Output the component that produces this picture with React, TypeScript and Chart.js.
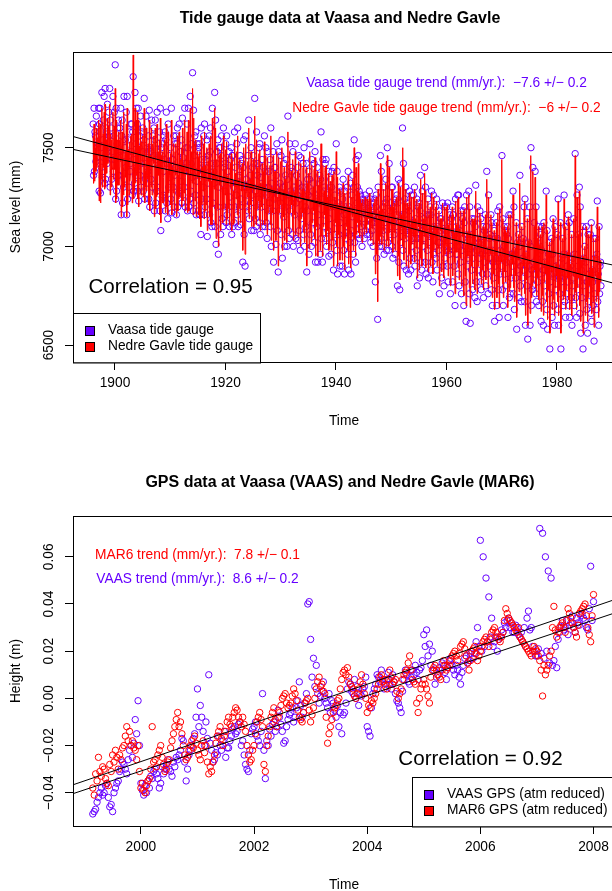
import { useEffect, useRef } from "react";
import { Chart, registerables } from "chart.js";

Chart.register(...registerables);

const PURPLE = "#6600ff";
const RED = "#ff0000";
const FONT = "'Liberation Sans', Arial, Helvetica, sans-serif";
const BASE = 13.75;

// ---------------- Tide gauge data (mm), monthly, 1896–1987 ----------------
const tideStartYear = 1896;
const tideSamplesPerYear = 12;
const vaasaTide = [
  7620, 7360, 7700, 7380, 7580, 7560, 7430, 7660, 7450, 7500, 7610, 7520,
  7700, 7280, 7620, 7700, 7270, 7500, 7400, 7780, 7350, 7540, 7640, 7450,
  7760, 7320, 7800, 7340, 7600, 7580, 7420, 7720, 7480, 7500, 7680, 7560,
  7800, 7300, 7640, 7600, 7340, 7480, 7440, 7760, 7380, 7560, 7680, 7440,
  7920, 7240, 7700, 7280, 7520, 7600, 7360, 7640, 7360, 7460, 7600, 7480,
  7700, 7160, 7560, 7640, 7220, 7460, 7300, 7760, 7340, 7500, 7540, 7400,
  7680, 7160, 7760, 7240, 7540, 7460, 7300, 7580, 7380, 7420, 7620, 7480,
  7620, 7260, 7580, 7860, 7280, 7440, 7320, 7780, 7360, 7520, 7700, 7400,
  7620, 7280, 7700, 7230, 7500, 7560, 7360, 7660, 7300, 7420, 7580, 7480,
  7600, 7280, 7540, 7750, 7240, 7420, 7340, 7660, 7320, 7480, 7500, 7380,
  7560, 7240, 7690, 7200, 7500, 7480, 7340, 7640, 7300, 7420, 7560, 7460,
  7600, 7180, 7540, 7640, 7220, 7440, 7280, 7680, 7300, 7460, 7520, 7400,
  7580, 7180, 7700, 7080, 7500, 7460, 7250, 7520, 7260, 7380, 7560, 7440,
  7580, 7180, 7540, 7680, 7220, 7420, 7140, 7620, 7300, 7460, 7400, 7350,
  7500, 7240, 7700, 7170, 7440, 7440, 7300, 7560, 7200, 7360, 7520, 7400,
  7560, 7160, 7520, 7600, 7200, 7400, 7270, 7620, 7280, 7480, 7480, 7330,
  7540, 7220, 7650, 7260, 7450, 7400, 7300, 7700, 7200, 7380, 7500, 7420,
  7620, 7180, 7500, 7700, 7200, 7380, 7240, 7760, 7280, 7420, 7520, 7350,
  7880, 7180, 7690, 7220, 7460, 7560, 7260, 7580, 7160, 7330, 7520, 7380,
  7480, 7180, 7500, 7520, 7160, 7360, 7060, 7600, 7240, 7440, 7400, 7300,
  7560, 7160, 7620, 7200, 7400, 7440, 7240, 7540, 7050, 7320, 7460, 7360,
  7560, 7160, 7480, 7600, 7120, 7360, 7100, 7700, 7220, 7420, 7380, 7320,
  7780, 7100, 7640, 7010, 7420, 7480, 7200, 7540, 6960, 7300, 7500, 7340,
  7500, 7060, 7460, 7560, 7140, 7320, 7100, 7600, 7200, 7400, 7420, 7280,
  7520, 7120, 7560, 7160, 7380, 7380, 7200, 7480, 7100, 7250, 7440, 7320,
  7500, 7060, 7460, 7460, 7100, 7300, 7120, 7580, 7200, 7400, 7320, 7260,
  7520, 7160, 7600, 7100, 7350, 7360, 7200, 7460, 7110, 7240, 7420, 7300,
  7440, 6920, 7400, 7540, 7060, 7300, 6900, 7560, 7200, 7340, 7300, 7260,
  7460, 7180, 7640, 7140, 7320, 7360, 7220, 7500, 7080, 7260, 7400, 7300,
  7460, 7080, 7420, 7750, 7140, 7280, 7100, 7580, 7200, 7360, 7420, 7240,
  7500, 7120, 7520, 7060, 7350, 7300, 7200, 7440, 7100, 7260, 7400, 7300,
  7560, 7100, 7380, 7500, 7120, 7260, 7040, 7480, 7180, 7300, 7380, 7220,
  7440, 7100, 7600, 7000, 7320, 7280, 7180, 7480, 6920, 7240, 7400, 7280,
  7400, 7010, 7360, 7520, 7080, 7260, 6870, 7480, 7180, 7300, 7320, 7220,
  7460, 7060, 7540, 6940, 7300, 7300, 7150, 7420, 7000, 7200, 7360, 7260,
  7440, 7000, 7340, 7660, 7080, 7260, 7040, 7520, 7180, 7280, 7400, 7220,
  7380, 7060, 7480, 7000, 7300, 7280, 7160, 7520, 7040, 7220, 7360, 7260,
  7400, 7030, 7320, 7460, 7080, 7240, 6980, 7450, 7140, 7280, 7300, 7180,
  7420, 7060, 7500, 7000, 7300, 7200, 7100, 7420, 6870, 7180, 7340, 7260,
  7380, 6960, 7340, 7520, 7060, 7250, 7000, 7440, 7120, 7280, 7320, 7180,
  7420, 7020, 7480, 6920, 7260, 7240, 7100, 7400, 6920, 7160, 7320, 7220,
  7360, 6960, 7340, 7580, 7040, 7240, 6920, 7440, 7100, 7280, 7300, 7160,
  7420, 7040, 7440, 7000, 7240, 7260, 7080, 7380, 6950, 7140, 7300, 7200,
  7340, 6960, 7300, 7380, 7020, 7220, 6880, 7400, 7060, 7260, 7200, 7120,
  7520, 6980, 7380, 6860, 7220, 7200, 7060, 7300, 6900, 7120, 7280, 7180,
  7200, 6900, 7240, 7340, 6980, 7160, 6860, 7280, 7040, 7200, 7100, 7100,
  7300, 6960, 7380, 6880, 7200, 7060, 7020, 7320, 6860, 7080, 7260, 7150,
  7360, 6960, 7300, 7540, 7020, 7180, 6920, 7440, 7060, 7220, 7300, 7120,
  7460, 7060, 7280, 7040, 7220, 7260, 7100, 7220, 7000, 7140, 7240, 7200,
  7180, 7040, 7220, 7260, 7080, 7160, 7060, 7240, 7100, 7200, 7140, 7140,
  7280, 7060, 7240, 7020, 7200, 7120, 7080, 7160, 7000, 7120, 7220, 7160,
  7240, 6820, 7200, 7260, 6940, 7140, 6630, 7300, 7020, 7180, 7000, 7080,
  7460, 7040, 7380, 7000, 7160, 7200, 7080, 7300, 6960, 7120, 7220, 7140,
  7340, 6980, 7240, 7500, 7020, 7140, 6980, 7420, 7060, 7180, 7220, 7100,
  7300, 7000, 7300, 6940, 7200, 7120, 7060, 7220, 6960, 7100, 7240, 7160,
  7260, 6800, 7220, 7340, 6920, 7120, 6780, 7320, 7020, 7160, 7100, 7080,
  7600, 6980, 7420, 6900, 7160, 7240, 7040, 7300, 6880, 7080, 7220, 7100,
  7200, 6860, 7180, 7280, 6940, 7080, 6880, 7260, 7000, 7120, 7080, 7040,
  7260, 6940, 7300, 6900, 7140, 7040, 6980, 7240, 6800, 7040, 7200, 7100,
  7220, 6840, 7180, 7360, 6920, 7080, 6880, 7280, 7000, 7120, 7140, 7040,
  7400, 6920, 7300, 6860, 7100, 7160, 6980, 7240, 6840, 7020, 7160, 7060,
  7200, 6880, 7160, 7280, 6920, 7060, 6820, 7260, 6960, 7100, 7080, 7000,
  7200, 6940, 7240, 6880, 7100, 7020, 6980, 7180, 6760, 7020, 7140, 7080,
  7140, 6840, 7120, 7220, 6900, 7040, 6800, 7200, 6940, 7080, 7000, 6980,
  7200, 6900, 7220, 6820, 7100, 6980, 6960, 7160, 6760, 7000, 7140, 7060,
  7200, 6820, 7160, 7160, 6900, 7060, 6700, 7240, 6960, 7100, 6960, 7000,
  7260, 6860, 7260, 6800, 7080, 7000, 6920, 7180, 6760, 6980, 7140, 7040,
  7180, 6700, 7120, 7200, 6820, 7000, 6620, 7260, 6900, 7060, 6940, 6960,
  7280, 6760, 7200, 6610, 7060, 7000, 6880, 7140, 6780, 6940, 7120, 7000,
  7140, 6740, 7100, 7310, 6820, 6980, 6720, 7200, 6880, 7040, 7020, 6940,
  7180, 6820, 7140, 6780, 7020, 6960, 6860, 7100, 6740, 6920, 7080, 6980,
  7160, 6800, 7100, 7380, 6860, 6980, 6760, 7260, 6900, 7040, 7060, 6940,
  7160, 6780, 7120, 6700, 6980, 6920, 6840, 7080, 6620, 6900, 7040, 6940,
  7120, 6700, 7040, 7180, 6780, 6940, 6640, 7200, 6860, 6980, 6940, 6900,
  7460, 6780, 7140, 6700, 7000, 7100, 6860, 7080, 6800, 6920, 7060, 6960,
  7100, 6640, 7040, 7160, 6740, 6920, 6760, 7160, 6840, 6960, 6960, 6900,
  7280, 6760, 7200, 6680, 6960, 6980, 6840, 7120, 6580, 6880, 7020, 6920,
  7060, 6740, 7000, 7360, 6800, 6900, 6720, 7100, 6840, 6940, 7040, 6880,
  7200, 6720, 7240, 6600, 6960, 6900, 6800, 7140, 6530, 6860, 7020, 6900,
  7200, 6600, 7000, 7500, 6700, 6880, 6780, 7400, 6800, 6920, 7120, 6860,
  7380, 6760, 7200, 6720, 6940, 7040, 6820, 7100, 6700, 6860, 7000, 6900,
  7060, 6620, 6980, 7100, 6720, 6880, 6600, 7120, 6800, 6920, 6880, 6840,
  7280, 6680, 7080, 6580, 6900, 6960, 6760, 7020, 6480, 6820, 6960, 6860,
  7040, 6640, 6960, 7140, 6700, 6860, 6600, 7100, 6780, 6900, 6900, 6840,
  7060, 6680, 7240, 6600, 6880, 6840, 6760, 7120, 6480, 6820, 6940, 6840,
  7040, 6700, 6960, 7260, 6720, 6860, 6640, 7100, 6760, 6900, 6960, 6820,
  7160, 6700, 7120, 6640, 6880, 6900, 6740, 7060, 6600, 6800, 6940, 6840,
  7140, 6700, 6960, 7470, 6740, 6860, 6640, 7260, 6780, 6900, 7060, 6820,
  7300, 6660, 7200, 6560, 6880, 6920, 6740, 7100, 6480, 6800, 6940, 6840,
  7000, 6600, 6920, 7100, 6680, 6820, 6560, 7060, 6720, 6860, 6860, 6780,
  7060, 6660, 7120, 6620, 6880, 6820, 6700, 7040, 6520, 6760, 6940, 6840,
  7040, 6680, 6960, 7230, 6720, 6860, 6600, 7100, 6760, 6900, 6920, 6800,
];
const gavleTide = [
  7560, 7320, 7620, 7330, 7520, 7500, 7380, 7600, 7400, 7440, 7550, 7460,
  7640, 7230, 7560, 7620, 7220, 7440, 7340, 7700, 7300, 7480, 7570, 7400,
  7680, 7290, 7720, 7300, 7540, 7510, 7370, 7650, 7420, 7440, 7610, 7500,
  7720, 7260, 7570, 7540, 7300, 7420, 7390, 7680, 7340, 7500, 7610, 7390,
  7800, 7220, 7640, 7240, 7460, 7540, 7310, 7580, 7310, 7400, 7540, 7430,
  7640, 7150, 7500, 7580, 7200, 7400, 7260, 7680, 7300, 7450, 7480, 7350,
  7620, 7150, 7700, 7210, 7490, 7400, 7260, 7530, 7330, 7370, 7560, 7430,
  7570, 7220, 7530, 7970, 7240, 7400, 7280, 7700, 7320, 7470, 7640, 7360,
  7680, 7240, 7640, 7200, 7460, 7510, 7320, 7610, 7260, 7380, 7530, 7430,
  7560, 7250, 7500, 7700, 7220, 7380, 7300, 7600, 7280, 7440, 7450, 7340,
  7520, 7210, 7640, 7180, 7460, 7440, 7300, 7600, 7260, 7380, 7520, 7420,
  7560, 7150, 7500, 7600, 7190, 7400, 7250, 7620, 7260, 7420, 7480, 7360,
  7540, 7160, 7650, 7120, 7460, 7420, 7220, 7480, 7220, 7350, 7520, 7400,
  7540, 7170, 7500, 7620, 7200, 7380, 7160, 7580, 7270, 7420, 7360, 7320,
  7470, 7210, 7640, 7160, 7400, 7400, 7270, 7520, 7180, 7330, 7480, 7360,
  7520, 7150, 7480, 7560, 7180, 7360, 7240, 7580, 7250, 7430, 7440, 7300,
  7500, 7200, 7600, 7230, 7410, 7370, 7270, 7640, 7180, 7350, 7460, 7380,
  7580, 7170, 7460, 7640, 7180, 7350, 7220, 7700, 7250, 7390, 7480, 7320,
  7800, 7160, 7650, 7200, 7420, 7520, 7230, 7540, 7150, 7300, 7480, 7350,
  7450, 7160, 7460, 7480, 7140, 7330, 7100, 7560, 7210, 7400, 7370, 7280,
  7520, 7140, 7580, 7180, 7370, 7410, 7210, 7500, 7080, 7290, 7430, 7330,
  7520, 7150, 7450, 7560, 7110, 7330, 7110, 7650, 7200, 7390, 7350, 7290,
  7700, 7110, 7600, 7040, 7380, 7440, 7190, 7500, 7000, 7280, 7460, 7310,
  7470, 7080, 7430, 7520, 7140, 7300, 7120, 7560, 7190, 7370, 7390, 7260,
  7490, 7110, 7530, 7140, 7350, 7360, 7190, 7460, 7110, 7240, 7420, 7300,
  7470, 7080, 7430, 7440, 7110, 7280, 7120, 7540, 7190, 7370, 7300, 7240,
  7480, 7160, 7560, 7110, 7330, 7340, 7190, 7440, 7120, 7230, 7400, 7280,
  7420, 6980, 7380, 7500, 7080, 7290, 6960, 7520, 7200, 7320, 7280, 7250,
  7430, 7170, 7600, 7140, 7300, 7340, 7210, 7480, 7100, 7240, 7380, 7290,
  7440, 7100, 7400, 7660, 7140, 7270, 7110, 7540, 7190, 7330, 7400, 7230,
  7470, 7130, 7490, 7080, 7320, 7290, 7200, 7420, 7110, 7250, 7380, 7280,
  7530, 7110, 7360, 7460, 7130, 7240, 7060, 7450, 7170, 7280, 7360, 7200,
  7410, 7110, 7560, 7030, 7300, 7260, 7170, 7460, 6980, 7230, 7380, 7270,
  7380, 7030, 7340, 7480, 7090, 7250, 6900, 7450, 7170, 7290, 7300, 7210,
  7430, 7080, 7500, 6980, 7290, 7280, 7150, 7400, 7030, 7190, 7340, 7250,
  7420, 7020, 7320, 7580, 7090, 7250, 7060, 7480, 7170, 7270, 7380, 7210,
  7360, 7080, 7440, 7030, 7280, 7270, 7160, 7480, 7060, 7210, 7340, 7250,
  7380, 7050, 7310, 7430, 7090, 7230, 7000, 7420, 7140, 7270, 7290, 7170,
  7400, 7070, 7460, 7020, 7280, 7200, 7100, 7400, 6900, 7170, 7320, 7240,
  7370, 6990, 7330, 7480, 7070, 7240, 7020, 7410, 7120, 7280, 7300, 7180,
  7390, 7040, 7450, 6950, 7250, 7230, 7100, 7380, 6950, 7160, 7310, 7210,
  7350, 6980, 7330, 7520, 7050, 7230, 6950, 7410, 7100, 7270, 7280, 7160,
  7400, 7050, 7410, 7010, 7230, 7250, 7080, 7370, 6980, 7140, 7300, 7190,
  7330, 6980, 7300, 7360, 7030, 7210, 6900, 7380, 7070, 7250, 7190, 7120,
  7480, 7000, 7350, 6900, 7210, 7190, 7060, 7290, 6930, 7120, 7280, 7170,
  7200, 6930, 7240, 7320, 7000, 7160, 6880, 7270, 7040, 7200, 7100, 7100,
  7280, 6980, 7360, 6910, 7200, 7070, 7030, 7300, 6890, 7080, 7250, 7150,
  7340, 6980, 7290, 7500, 7040, 7170, 6950, 7400, 7060, 7220, 7280, 7120,
  7420, 7070, 7270, 7050, 7220, 7240, 7100, 7220, 7020, 7140, 7240, 7190,
  7180, 7060, 7220, 7250, 7090, 7160, 7070, 7240, 7110, 7200, 7140, 7140,
  7270, 7070, 7240, 7030, 7200, 7120, 7090, 7170, 7010, 7130, 7220, 7160,
  7240, 6860, 7200, 7250, 6960, 7140, 6720, 7290, 7030, 7180, 7010, 7090,
  7420, 7050, 7360, 7010, 7160, 7190, 7080, 7290, 6980, 7120, 7220, 7140,
  7320, 7000, 7240, 7460, 7030, 7140, 7000, 7400, 7070, 7180, 7200, 7100,
  7290, 7020, 7290, 6970, 7200, 7120, 7070, 7220, 6980, 7110, 7240, 7160,
  7250, 6850, 7220, 7320, 6950, 7120, 6830, 7300, 7030, 7160, 7100, 7090,
  7500, 7000, 7400, 6930, 7160, 7220, 7040, 7290, 6900, 7080, 7220, 7100,
  7200, 6890, 7180, 7270, 6960, 7090, 6910, 7250, 7010, 7130, 7090, 7050,
  7250, 6960, 7290, 6920, 7140, 7050, 6990, 7240, 6840, 7050, 7200, 7100,
  7220, 6880, 7180, 7340, 6940, 7080, 6900, 7270, 7010, 7120, 7140, 7050,
  7370, 6950, 7280, 6890, 7110, 7150, 6990, 7230, 6870, 7030, 7160, 7070,
  7200, 6900, 7160, 7270, 6940, 7070, 6860, 7250, 6980, 7100, 7090, 7010,
  7200, 6960, 7230, 6900, 7100, 7030, 6990, 7180, 6800, 7030, 7140, 7080,
  7140, 6870, 7130, 7220, 6920, 7050, 6840, 7200, 6960, 7090, 7010, 7000,
  7200, 6920, 7210, 6850, 7110, 6990, 6970, 7160, 6800, 7010, 7150, 7070,
  7200, 6850, 7160, 7160, 6920, 7070, 6760, 7230, 6970, 7110, 6970, 7010,
  7240, 6890, 7250, 6830, 7090, 7000, 6940, 7180, 6800, 6990, 7140, 7050,
  7180, 6750, 7130, 7190, 6850, 7010, 6700, 7250, 6920, 7070, 6950, 6970,
  7260, 6790, 7190, 6690, 7070, 7010, 6900, 7140, 6810, 6950, 7130, 7010,
  7140, 6780, 7110, 7280, 6850, 6990, 6760, 7190, 6900, 7050, 7020, 6960,
  7170, 6850, 7140, 6810, 7030, 6970, 6880, 7100, 6780, 6940, 7090, 6990,
  7160, 6830, 7110, 7340, 6880, 6990, 6790, 7250, 6920, 7050, 7060, 6960,
  7160, 6810, 7120, 6740, 6990, 6930, 6860, 7080, 6680, 6920, 7050, 6950,
  7120, 6740, 7050, 7170, 6810, 6950, 6690, 7190, 6870, 6990, 6950, 6920,
  7440, 6810, 7140, 6740, 7010, 7100, 6870, 7080, 6820, 6930, 7070, 6970,
  7100, 6690, 7050, 7160, 6770, 6930, 6790, 7160, 6850, 6970, 6970, 6910,
  7260, 6790, 7190, 6720, 6970, 6990, 6850, 7120, 6640, 6890, 7030, 6930,
  7060, 6770, 7010, 7320, 6830, 6920, 6750, 7100, 6860, 6960, 7040, 6900,
  7190, 6760, 7230, 6650, 6970, 6910, 6830, 7140, 6600, 6880, 7030, 6910,
  7190, 6660, 7010, 7460, 6740, 6900, 6800, 7380, 6820, 6930, 7100, 6880,
  7350, 6790, 7190, 6750, 6950, 7040, 6840, 7100, 6730, 6880, 7010, 6910,
  7060, 6670, 6990, 7100, 6750, 6890, 6650, 7120, 6820, 6930, 6890, 6860,
  7260, 6720, 7080, 6630, 6910, 6970, 6780, 7020, 6560, 6840, 6970, 6870,
  7040, 6680, 6970, 7140, 6730, 6870, 6650, 7100, 6790, 6910, 6910, 6850,
  7060, 6720, 7230, 6650, 6890, 6850, 6780, 7120, 6560, 6840, 6950, 6850,
  7040, 6730, 6970, 7240, 6750, 6870, 6680, 7100, 6780, 6910, 6970, 6840,
  7150, 6730, 7120, 6680, 6890, 6910, 6760, 7060, 6650, 6820, 6950, 6850,
  7140, 6730, 6970, 7460, 6770, 6870, 6680, 7250, 6790, 6910, 7060, 6840,
  7280, 6700, 7190, 6620, 6890, 6930, 6760, 7100, 6560, 6820, 6950, 6850,
  7000, 6650, 6930, 7100, 6720, 6830, 6620, 7060, 6740, 6870, 6870, 6800,
  7060, 6700, 7110, 6660, 6890, 6830, 6720, 7040, 6590, 6780, 6950, 6850,
  7040, 6720, 6970, 7200, 6750, 6870, 6640, 7100, 6770, 6910, 6930, 6820,
];
const tideYearTicks = [1900, 1920, 1940, 1960, 1980];
const tideLevelTicks = [6500, 7000, 7500];
const tideTrendSlopes = [-7.6, -6.0]; // mm/yr (Vaasa, Nedre Gavle)
const tideTrendAt1900 = [7499, 7446]; // mm

// ---------------- GPS data (mm), 1999.15–2008.0 ----------------
const gpsStartYear = 1999.15;
const gpsStepYears = 0.025;
const vaasGps = [
  -49, -48, -47, -44, -42, -40, -38, -41, -40, -37, -36, -42, -46, -45, -48, -40, -38, -36, -35, -31, -30, -27, -28, -30, -32, -26, -22, -20, -25, -19, -9, -15, -1, -20,
  -36, -39, -41, -37, -40, -35, -38, -33, -34, -31, -30, -32, -34, -38, -36, -29, -32, -30, -28, -26, -30, -31, -33, -27, -29, -25, -26, -24, -22, -17, -18, -27, -35, -30, -24, -22, -20, -17, -15, -8,
  4, -12, -3, -8, -14, -20, -10, -17, 10, -19, -22, -27, -26, -23, -24, -16, -20, -22, -18, -14, -25, -21, -21, -18, -16, -13, -12, -15, -14, -11, -10, -20, -18, -24, -28, -30, -31, -22, -15, -13,
  -12, -10, -16, -18, -20, -14, 2, -22, -34, -18, -20, -13, -16, -11, -10, -14, -12, -5, -8, -11, -14, -19, -18, -12, -9, -7, -6, -4, -10, -8, -4, -1, 7, -3, -8, -6, -2, 2, 40, 41,
  25, 9, 17, 5, 14, 2, -2, 1, 3, 7, 0, -2, -4, 2, -6, -1, -2, -5, -8, -3, -12, -6, -15, -7, -6, -2, 4, 7, 6, 3, 2, 8, 0, 5, -3, 2, 1, 4, 5, 9,
  -12, -14, -16, -4, 2, 4, 6, 10, 9, 7, 12, 8, 4, 6, 8, 11, 6, 4, 10, 7, 2, -1, -2, -4, -6, 3, 8, 12, 10, 7, 6, 9, 12, 10, 14, 11, 8, 12, 13, 16,
  27, 22, 29, 18, 23, 14, 20, 12, 6, 9, 10, 13, 12, 15, 14, 11, 8, 13, 16, 17, 14, 12, 10, 14, 12, 9, 6, 11, 14, 17, 18, 15, 16, 19, 20, 17, 19, 24, 30, 22,
  67, 20, 60, 22, 51, 24, 43, 26, 34, 22, 24, 26, 20, 25, 26, 29, 28, 32, 30, 33, 34, 30, 32, 28, 28, 31, 30, 27, 26, 28, 24, 30, 22, 34, 37, 29, 30, 22, 20, 18,
  18, 21, 72, 19, 70, 17, 60, 20, 54, 15, 51, 14, 16, 22, 13, 25, 28, 30, 33, 29, 30, 33, 27, 31, 32, 35, 30, 28, 34, 32, 31, 35, 36, 34, 33, 30, 29, 38, 56, 33,
  41,
];
const mar6Gps = [
  -38, -41, -32, -35, -25, -31, -33, -29, -30, -34, -36, -37, -28, -31, -24, -27, -22, -25, -30, -24, -26, -21, -20, -16, -12, -18, -14, -20, -18, -21, -22, -26, -20, -31,
  -38, -36, -39, -40, -37, -35, -34, -30, -12, -27, -26, -29, -24, -22, -20, -25, -28, -31, -30, -27, -26, -21, -18, -15, -12, -9, -6, -12, -10, -15, -20, -24, -26, -25, -22, -20, -18, -21, -16, -19,
  -22, -24, -26, -20, -18, -23, -20, -27, -32, -29, -31, -27, -24, -19, -16, -14, -12, -17, -20, -16, -14, -10, -8, -11, -12, -8, -6, -4, -5, -8, -10, -12, -8, -11, -14, -20, -24, -27, -26, -22,
  -20, -15, -10, -8, -6, -9, -12, -28, -31, -20, -16, -12, -8, -6, -4, -9, -12, -8, -6, -3, 0, 1, 2, -2, -4, -3, -2, 1, 4, 2, -1, -5, -8, -9, -10, -6, -2, -1, 0, -5,
  -10, -7, -4, 0, 4, 7, 9, 5, 6, 3, 2, -8, -19, -15, -12, -9, -6, -4, -3, -1, 0, 4, 8, 11, 12, 10, 13, 9, 6, 5, 4, 1, 0, 2, 4, 7, 10, 6, 2, 0,
  -6, -3, -4, -1, -2, 0, 2, 4, 6, 9, 10, 7, 8, 5, 4, 8, 12, 9, 6, 7, 8, 3, 0, 2, 4, 8, 10, 11, 12, 15, 18, 12, 8, 7, 6, -2, -6, 0, 4, 6,
  8, 6, 4, 1, -2, 9, 12, 13, 14, 12, 10, 9, 8, 12, 16, 14, 12, 13, 14, 16, 18, 19, 20, 18, 16, 19, 22, 23, 24, 21, 18, 15, 12, 16, 20, 21, 22, 19, 16, 18,
  20, 22, 24, 25, 26, 24, 22, 25, 28, 29, 30, 28, 26, 25, 24, 26, 28, 33, 38, 36, 34, 33, 32, 31, 30, 29, 28, 30, 26, 25, 24, 23, 22, 21, 20, 19, 18, 20, 22, 21,
  20, 18, 16, 12, 1, 14, 10, 12, 14, 18, 20, 30, 39, 29, 26, 28, 30, 31, 32, 30, 28, 33, 38, 36, 34, 32, 30, 28, 26, 31, 36, 37, 38, 39, 40, 35, 30, 27, 24, 35,
  44,
];
const gpsYearTicks = [2000, 2002, 2004, 2006, 2008];
const gpsHeightTicks = [-0.04, -0.02, 0, 0.02, 0.04, 0.06];
const gpsTrendSlopes = [8.2, 8.0]; // mm/yr
const gpsTrendAt2000 = [-26.8, -30.8]; // mm

// ---------------- helpers ----------------
type Note = { text: string; x: number; y: number; color: string; size: number; align: CanvasTextAlign };
type Spec = {
  title: string;
  xTitle: string;
  yTitle: string;
  xMin: number; xMax: number; yMin: number; yMax: number;
  xTicks: number[]; yTicks: number[];
  xFmt: (v: number) => string;
  yFmt: (v: number) => string;
  datasets: any[];
  notes: Note[];
  legend: { items: { label: string; color: string }[]; side: "left" | "right"; width: number };
};

function trendLine(slope: number, ref: number, refYear: number, x0: number, x1: number, scale = 1) {
  return {
    type: "line",
    data: [
      { x: x0, y: (ref + slope * (x0 - refYear)) * scale },
      { x: x1, y: (ref + slope * (x1 - refYear)) * scale },
    ],
    borderColor: "#000",
    borderWidth: 1,
    pointRadius: 0,
    showLine: true,
    fill: false,
  };
}

const tideTime = (i: number) => tideStartYear + (i + 0.5) / tideSamplesPerYear;
const gpsTime = (i: number) => gpsStartYear + i * gpsStepYears;

const TX0 = 1892.4, TX1 = 1990.5;
const GX0 = 1998.8, GX1 = 2008.38;

const tideSpec: Spec = {
  title: "Tide gauge data at Vaasa and Nedre Gavle",
  xTitle: "Time",
  yTitle: "Sea level (mm)",
  xMin: TX0, xMax: TX1, yMin: 6414, yMax: 7985,
  xTicks: tideYearTicks, yTicks: tideLevelTicks,
  xFmt: (v) => String(v),
  yFmt: (v) => String(v),
  datasets: [
    trendLine(tideTrendSlopes[0], tideTrendAt1900[0], 1900, TX0, TX1),
    trendLine(tideTrendSlopes[1], tideTrendAt1900[1], 1900, TX0, TX1),
    {
      data: gavleTide.map((v, i) => ({ x: tideTime(i), y: v })),
      showLine: true,
      borderColor: RED,
      borderWidth: 1,
      pointRadius: 0,
      fill: false,
    },
    {
      data: vaasaTide.map((v, i) => ({ x: tideTime(i), y: v })),
      showLine: false,
      borderColor: PURPLE,
      backgroundColor: "rgba(0,0,0,0)",
      pointRadius: 3.2,
      pointBorderWidth: 1,
    },
  ],
  notes: [
    { text: "Vaasa tide gauge trend (mm/yr.):  \u22127.6 +/\u2212 0.2", x: 1960, y: 7825, color: PURPLE, size: BASE, align: "center" },
    { text: "Nedre Gavle tide gauge trend (mm/yr.):  \u22126 +/\u2212 0.2", x: 1960, y: 7702, color: RED, size: BASE, align: "center" },
    { text: "Correlation = 0.95", x: 1895.2, y: 6795, color: "#000", size: 20.6, align: "left" },
  ],
  legend: {
    items: [
      { label: "Vaasa tide gauge", color: PURPLE },
      { label: "Nedre Gavle tide gauge", color: RED },
    ],
    side: "left",
    width: 187,
  },
};

const gpsSpec: Spec = {
  title: "GPS data at Vaasa (VAAS) and Nedre Gavle (MAR6)",
  xTitle: "Time",
  yTitle: "Height (m)",
  xMin: GX0, xMax: GX1, yMin: -0.0541, yMax: 0.0773,
  xTicks: gpsYearTicks, yTicks: gpsHeightTicks,
  xFmt: (v) => String(v),
  yFmt: (v) => v.toFixed(2).replace("-", "\u2212"),
  datasets: [
    trendLine(gpsTrendSlopes[0], gpsTrendAt2000[0], 2000, GX0, GX1, 0.001),
    trendLine(gpsTrendSlopes[1], gpsTrendAt2000[1], 2000, GX0, GX1, 0.001),
    {
      data: mar6Gps.map((v, i) => ({ x: gpsTime(i), y: v / 1000 })),
      showLine: false,
      borderColor: RED,
      backgroundColor: "rgba(0,0,0,0)",
      pointRadius: 3.2,
      pointBorderWidth: 1,
    },
    {
      data: vaasGps.map((v, i) => ({ x: gpsTime(i), y: v / 1000 })),
      showLine: false,
      borderColor: PURPLE,
      backgroundColor: "rgba(0,0,0,0)",
      pointRadius: 3.2,
      pointBorderWidth: 1,
    },
  ],
  notes: [
    { text: "MAR6 trend (mm/yr.):  7.8 +/\u2212 0.1", x: 2001, y: 0.0605, color: RED, size: BASE, align: "center" },
    { text: "VAAS trend (mm/yr.):  8.6 +/\u2212 0.2", x: 2001, y: 0.0503, color: PURPLE, size: BASE, align: "center" },
    { text: "Correlation = 0.92", x: 2004.55, y: -0.0259, color: "#000", size: 20.6, align: "left" },
  ],
  legend: {
    items: [
      { label: "VAAS GPS (atm reduced)", color: PURPLE },
      { label: "MAR6 GPS (atm reduced)", color: RED },
    ],
    side: "right",
    width: 203,
  },
};

function decor(spec: Spec) {
  return {
    id: "decor",
    afterDraw(chart: any) {
      const ctx: CanvasRenderingContext2D = chart.ctx;
      const a = chart.chartArea;
      const xs = chart.scales.x;
      const ys = chart.scales.y;
      ctx.save();
      ctx.strokeStyle = "#000";
      ctx.lineWidth = 1;
      ctx.strokeRect(Math.round(a.left) + 0.5, Math.round(a.top) + 0.5, Math.round(a.right - a.left), Math.round(a.bottom - a.top));

      // y tick labels (rotated, R style)
      ctx.fillStyle = "#000";
      ctx.font = `${BASE}px ${FONT}`;
      ctx.textAlign = "center";
      ctx.textBaseline = "middle";
      for (const t of ys.ticks) {
        const py = ys.getPixelForValue(t.value);
        ctx.save();
        ctx.translate(49.5, py);
        ctx.rotate(-Math.PI / 2);
        ctx.fillText(spec.yFmt(t.value), 0, 0);
        ctx.restore();
      }

      // main title
      ctx.font = `bold 16px ${FONT}`;
      ctx.fillStyle = "#000";
      ctx.textAlign = "center";
      ctx.fillText(spec.title, 340, 18.5);

      // annotations
      for (const n of spec.notes) {
        ctx.font = `${n.size}px ${FONT}`;
        ctx.fillStyle = n.color;
        ctx.textAlign = n.align;
        ctx.fillText(n.text, xs.getPixelForValue(n.x), ys.getPixelForValue(n.y));
      }

      // legend
      const L = spec.legend;
      const h = 49.5;
      const bx = L.side === "left" ? Math.round(a.left) : Math.round(a.right - L.width);
      const by = Math.round(a.bottom - h);
      ctx.fillStyle = "#fff";
      ctx.fillRect(bx, by, L.width, h);
      ctx.strokeStyle = "#000";
      ctx.strokeRect(bx + 0.5, by + 0.5, L.width, h);
      ctx.font = `${BASE}px ${FONT}`;
      ctx.textAlign = "left";
      L.items.forEach((it, i) => {
        const cy = by + 17 + i * 16.2;
        ctx.fillStyle = it.color;
        ctx.fillRect(bx + 12.5, Math.round(cy - 4.5) + 0.5, 9, 9);
        ctx.strokeStyle = "#000";
        ctx.strokeRect(bx + 12.5, Math.round(cy - 4.5) + 0.5, 9, 9);
        ctx.fillStyle = "#000";
        ctx.fillText(it.label, bx + 35, cy);
      });
      ctx.restore();
    },
  };
}

const W = 630;
const H = 464;

function Panel({ spec, top }: { spec: Spec; top: number }) {
  const ref = useRef<HTMLCanvasElement>(null);
  useEffect(() => {
    const font = { family: FONT, size: BASE };
    const chart = new Chart(ref.current as HTMLCanvasElement, {
      type: "scatter",
      data: { datasets: spec.datasets },
      options: {
        animation: false,
        responsive: false,
        devicePixelRatio: 1,
        events: [],
        layout: { padding: { top: 52, left: 0, right: 15, bottom: 0 } },
        plugins: { legend: { display: false }, tooltip: { enabled: false }, title: { display: false } },
        scales: {
          x: {
            type: "linear",
            position: "bottom",
            min: spec.xMin,
            max: spec.xMax,
            afterBuildTicks: (s: any) => {
              s.ticks = spec.xTicks.map((v) => ({ value: v }));
            },
            afterFit: (s: any) => {
              s.height = H - 52 - 310;
            },
            ticks: {
              color: "#000",
              font,
              padding: 4.75,
              autoSkip: false,
              maxRotation: 0,
              minRotation: 0,
              callback: (v: any) => spec.xFmt(Number(v)),
            },
            grid: { drawOnChartArea: false, drawTicks: true, tickLength: 8, tickColor: "#000", color: "#000", tickWidth: 1 },
            border: { display: false },
            title: { display: true, text: spec.xTitle, color: "#000", font, padding: { top: 0, bottom: 34.75 } },
          },
          y: {
            type: "linear",
            position: "left",
            min: spec.yMin,
            max: spec.yMax,
            afterBuildTicks: (s: any) => {
              s.ticks = spec.yTicks.map((v) => ({ value: v }));
            },
            afterFit: (s: any) => {
              s.width = 73;
            },
            ticks: { display: false },
            grid: { drawOnChartArea: false, drawTicks: true, tickLength: 8, tickColor: "#000", color: "#000", tickWidth: 1 },
            border: { display: false },
            title: { display: true, text: spec.yTitle, color: "#000", font, padding: { top: 7.75, bottom: 0 } },
          },
        },
      } as any,
      plugins: [decor(spec)],
    } as any);
    return () => chart.destroy();
  }, [spec]);
  return (
    <canvas
      ref={ref}
      width={W}
      height={H}
      style={{ position: "absolute", left: 0, top, width: W, height: H, display: "block" }}
    />
  );
}

export default function App() {
  return (
    <div
      style={{
        position: "absolute",
        left: 0,
        top: 0,
        width: 612,
        height: 891,
        overflow: "hidden",
        background: "#fff",
      }}
    >
      <Panel spec={tideSpec} top={0} />
      <Panel spec={gpsSpec} top={464} />
    </div>
  );
}
